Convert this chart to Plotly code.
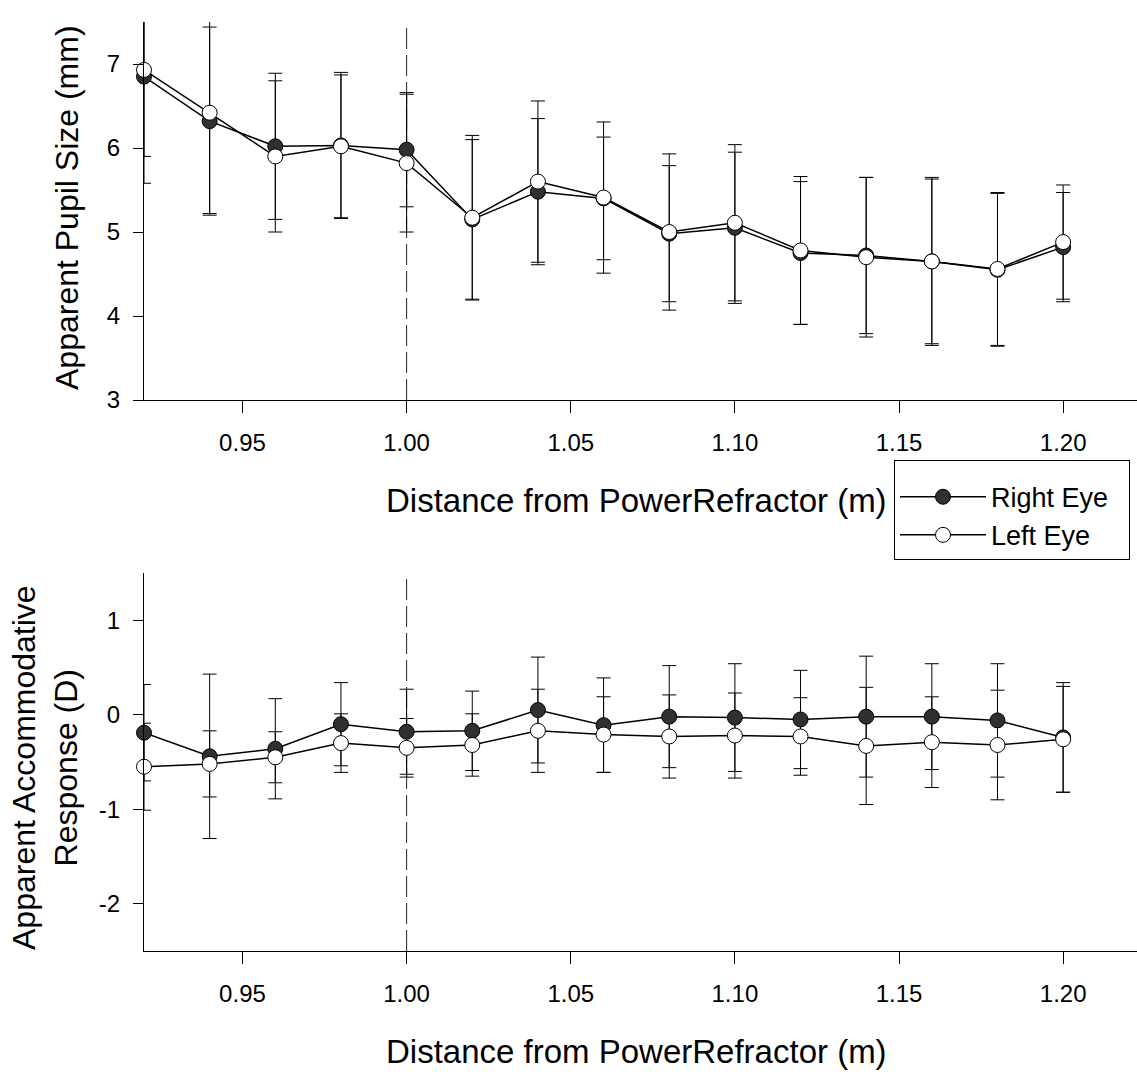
import plotly.graph_objects as go

# ---- data ----
distance = [0.92, 0.94, 0.96, 0.98, 1.00, 1.02, 1.04, 1.06, 1.08, 1.10, 1.12, 1.14, 1.16, 1.18, 1.20]

pupil_right = [6.85, 6.32, 6.02, 6.03, 5.98, 5.15, 5.48, 5.40, 4.98, 5.05, 4.75, 4.72, 4.65, 4.55, 4.82]
pupil_right_err = [1.27, 1.12, 0.87, 0.87, 0.68, 0.95, 0.87, 0.73, 0.81, 0.90, 0.85, 0.93, 0.98, 0.91, 0.65]
pupil_left = [6.93, 6.42, 5.90, 6.02, 5.82, 5.17, 5.60, 5.41, 5.00, 5.11, 4.78, 4.70, 4.65, 4.56, 4.88]
pupil_left_err = [1.03, 1.20, 0.90, 0.85, 0.82, 0.98, 0.96, 0.90, 0.93, 0.93, 0.88, 0.95, 1.00, 0.91, 0.68]

accom_right = [-0.19, -0.44, -0.36, -0.10, -0.18, -0.17, 0.05, -0.11, -0.02, -0.03, -0.05, -0.02, -0.02, -0.06, -0.24]
accom_right_err = [0.51, 0.87, 0.53, 0.44, 0.45, 0.42, 0.56, 0.50, 0.54, 0.57, 0.52, 0.64, 0.56, 0.60, 0.58]
accom_left = [-0.55, -0.52, -0.45, -0.30, -0.35, -0.32, -0.17, -0.21, -0.23, -0.22, -0.23, -0.33, -0.29, -0.32, -0.26]
accom_left_err = [0.46, 0.35, 0.27, 0.31, 0.31, 0.33, 0.44, 0.40, 0.44, 0.45, 0.41, 0.62, 0.48, 0.58, 0.56]

x_tickvals = [0.95, 1.00, 1.05, 1.10, 1.15, 1.20]
x_ticktext = ["0.95", "1.00", "1.05", "1.10", "1.15", "1.20"]
pupil_ticks = [3, 4, 5, 6, 7]
pupil_ticktext = ["3", "4", "5", "6", "7"]
accom_ticks = [-2, -1, 0, 1]
accom_ticktext = ["-2", "-1", "0", "1"]
reference_distance = 1.00

series_names = ["Right Eye", "Left Eye"]

# ---- styles ----
FONT = "Liberation Sans, Arial, sans-serif"
W, H = 1137, 1076          # reference pixel grid
H_LAYOUT = 1089            # compensates for the vertical scaling seen in the capture
RIGHT_FILL = "#303030"

fig = go.Figure()

def add_panel(yvals_r, err_r, yvals_l, err_l, xa, ya, legend):
    for yv, err in ((yvals_r, err_r), (yvals_l, err_l)):
        fig.add_trace(go.Scatter(
            x=distance, y=yv, mode="markers", xaxis=xa, yaxis=ya,
            marker=dict(size=2, opacity=0),
            error_y=dict(type="data", array=err, visible=True, color="black",
                         thickness=1, width=7),
            showlegend=False, hoverinfo="skip", cliponaxis=True))
    fig.add_trace(go.Scatter(
        x=distance, y=yvals_r, mode="lines+markers", xaxis=xa, yaxis=ya,
        name=series_names[0] + "\u00a0\u00a0", showlegend=legend, cliponaxis=False,
        line=dict(color="black", width=1.5),
        marker=dict(size=15, color=RIGHT_FILL, line=dict(color="black", width=1))))
    fig.add_trace(go.Scatter(
        x=distance, y=yvals_l, mode="lines+markers", xaxis=xa, yaxis=ya,
        name=series_names[1], showlegend=legend, cliponaxis=False,
        line=dict(color="black", width=1.5),
        marker=dict(size=15, color="white", line=dict(color="black", width=1))))

add_panel(pupil_right, pupil_right_err, pupil_left, pupil_left_err, "x", "y", True)
add_panel(accom_right, accom_right_err, accom_left, accom_left_err, "x2", "y2", False)

xdom = [144 / W, 1.0]
top_dom = [1 - 400 / H, 1 - 22 / H]
bot_dom = [1 - 951 / H, 1 - 573 / H]

xcommon = dict(range=[0.92, 1.2225], domain=xdom, showgrid=False, zeroline=False,
               showline=True, linecolor="black", linewidth=1,
               ticks="outside", ticklen=12, tickwidth=1, tickcolor="black",
               tickvals=x_tickvals, ticktext=x_ticktext,
               tickfont=dict(family=FONT, size=24, color="black"),
               ticklabelstandoff=9)
ycommon = dict(showgrid=False, zeroline=False, showline=True, linecolor="black",
               linewidth=1, ticks="outside", ticklen=10, tickwidth=1,
               tickcolor="black", tickfont=dict(family=FONT, size=24, color="black"),
               ticklabelstandoff=8)

fig.update_layout(
    width=W, height=H_LAYOUT,
    margin=dict(l=0, r=0, t=0, b=0),
    paper_bgcolor="white", plot_bgcolor="white",
    font=dict(family=FONT, color="black"),
    xaxis=dict(**xcommon, anchor="y"),
    yaxis=dict(**ycommon, domain=top_dom, range=[3, 7.5], tickvals=pupil_ticks,
               ticktext=pupil_ticktext, anchor="x"),
    xaxis2=dict(**xcommon, anchor="y2"),
    yaxis2=dict(**ycommon, domain=bot_dom, range=[-2.5, 1.5], tickvals=accom_ticks,
                ticktext=accom_ticktext, anchor="x2"),
    legend=dict(x=894 / W, y=1 - 460 / H, xanchor="left", yanchor="top",
                bordercolor="black", borderwidth=1, bgcolor="white",
                font=dict(family=FONT, size=27, color="black"),
                title=dict(text="\u00a0", font=dict(size=9)),
                itemwidth=86, tracegroupgap=0),
    showlegend=True,
)

for xr, yr in (("x", "y domain"), ("x2", "y2 domain")):
    fig.add_shape(type="line", xref=xr, yref=yr, x0=reference_distance, x1=reference_distance,
                  y0=0, y1=1, line=dict(color="#222222", width=1, dash="21px,6px"), layer="below")

title_font = dict(family=FONT, size=33, color="black")
xtitle = "Distance from PowerRefractor (m)"
fig.add_annotation(text=xtitle, xref="paper", yref="paper", x=636 / W, y=1 - 500 / H,
                   showarrow=False, font=title_font, xanchor="center", yanchor="middle")
fig.add_annotation(text=xtitle, xref="paper", yref="paper", x=636 / W, y=1 - 1051 / H,
                   showarrow=False, font=title_font, xanchor="center", yanchor="middle")
fig.add_annotation(text="Apparent Pupil Size (mm)", xref="paper", yref="paper",
                   x=67 / W, y=1 - 208 / H, textangle=-90, showarrow=False,
                   font=dict(family=FONT, size=32, color="black"),
                   xanchor="center", yanchor="middle")
fig.add_annotation(text="Apparent Accommodative<br>Response (D)", xref="paper", yref="paper",
                   x=45 / W, y=1 - 768 / H, textangle=-90, showarrow=False,
                   font=dict(family=FONT, size=32, color="black"),
                   xanchor="center", yanchor="middle")

fig.write_html("out.html", config={"displayModeBar": False},
               post_script="document.body.style.margin='0px';")
